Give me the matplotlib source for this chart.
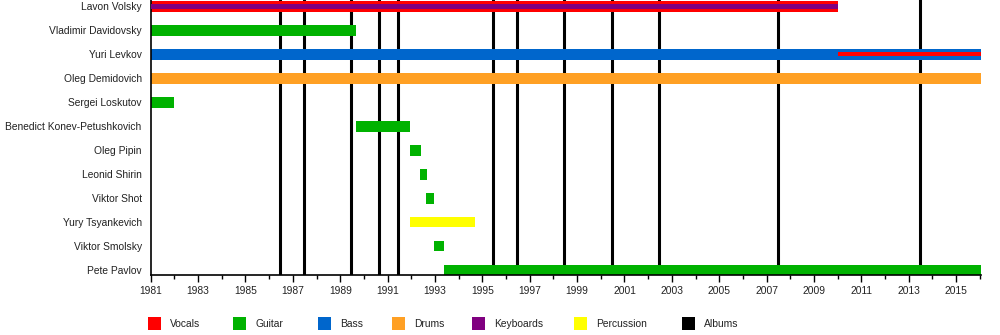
import matplotlib.pyplot as plt
from matplotlib.patches import Rectangle

plt.rcParams['font.family'] = ['Liberation Sans', 'DejaVu Sans']

# members top to bottom
members = ["Lavon Volsky", "Vladimir Davidovsky", "Yuri Levkov", "Oleg Demidovich",
           "Sergei Loskutov", "Benedict Konev-Petushkovich", "Oleg Pipin", "Leonid Shirin",
           "Viktor Shot", "Yury Tsyankevich", "Viktor Smolsky", "Pete Pavlov"]

START, END = 1981.0, 2016.05

# main bars: (member, start, end, role)
bars = [
    ("Lavon Volsky", 1981.0, 2010.0, "Vocals"),
    ("Vladimir Davidovsky", 1981.0, 1989.68, "Guitar"),
    ("Yuri Levkov", 1981.0, END, "Bass"),
    ("Oleg Demidovich", 1981.0, END, "Drums"),
    ("Sergei Loskutov", 1981.0, 1982.0, "Guitar"),
    ("Benedict Konev-Petushkovich", 1989.65, 1991.95, "Guitar"),
    ("Oleg Pipin", 1991.95, 1992.4, "Guitar"),
    ("Leonid Shirin", 1992.37, 1992.65, "Guitar"),
    ("Viktor Shot", 1992.62, 1992.98, "Guitar"),
    ("Yury Tsyankevich", 1991.95, 1994.7, "Percussion"),
    ("Viktor Smolsky", 1992.95, 1993.4, "Guitar"),
    ("Pete Pavlov", 1993.4, END, "Guitar"),
]

# thin secondary-role stripes
stripes = [
    ("Lavon Volsky", 1981.0, 2010.0, "Keyboards"),
    ("Yuri Levkov", 2010.0, END, "Vocals"),
]

albums = [1986.47, 1987.48, 1989.46, 1990.64, 1991.45, 1995.46, 1996.47,
          1998.45, 2000.48, 2002.46, 2007.48, 2013.47]

roles = ["Vocals", "Guitar", "Bass", "Drums", "Keyboards", "Percussion", "Albums"]
colors = {"Vocals": "#ff0000", "Guitar": "#00b200", "Bass": "#0066cc",
          "Drums": "#ffa024", "Keyboards": "#800080", "Percussion": "#ffff00",
          "Albums": "#000000"}

fig = plt.figure(figsize=(10, 3.35), dpi=100)
ax = fig.add_axes([0.1507, 1 - 275.3 / 335, 0.981 - 0.1507, 275.3 / 335])

row = {m: i for i, m in enumerate(members)}
bar_h = 0.45
stripe_h = 0.17
fs = 7.4

for x in albums:
    ax.axvline(x, color="black", linewidth=2.2, zorder=1)

for m, s, e, r in bars:
    ax.add_patch(Rectangle((s, row[m] - bar_h / 2), e - s, bar_h,
                           facecolor=colors[r], edgecolor="none", zorder=2))
for m, s, e, r in stripes:
    ax.add_patch(Rectangle((s, row[m] - stripe_h / 2), e - s, stripe_h,
                           facecolor=colors[r], edgecolor="none", zorder=3))

ax.set_xlim(START, END)
ax.set_ylim(11.22, -0.27)
ax.set_yticks(range(len(members)))
ax.set_yticklabels(members, fontsize=fs, color="#222222")
ax.tick_params(axis="y", length=0, pad=6.5)

ax.set_xticks(range(1981, 2016, 2))
ax.set_xticks(range(1982, 2017, 2), minor=True)
ax.tick_params(axis="x", which="major", length=5, width=1, labelsize=fs, pad=3, labelcolor="#222222")
ax.tick_params(axis="x", which="minor", length=3, width=1)

for side in ["top", "right"]:
    ax.spines[side].set_visible(False)
ax.spines["left"].set_linewidth(1.2)
ax.spines["bottom"].set_linewidth(1.2)

# legend along the bottom
leg_x = [148, 233, 318, 392, 472, 574, 682]
for xp, r in zip(leg_x, roles):
    fig.patches.append(Rectangle((xp / 1000, 1 - 330 / 335), 13 / 1000, 13 / 335,
                                 transform=fig.transFigure, facecolor=colors[r],
                                 edgecolor="none"))
    fig.text((xp + 22) / 1000, 1 - 324 / 335, r, fontsize=fs, va="center",
             color="#222222")

fig.savefig("out.png", dpi=100)
